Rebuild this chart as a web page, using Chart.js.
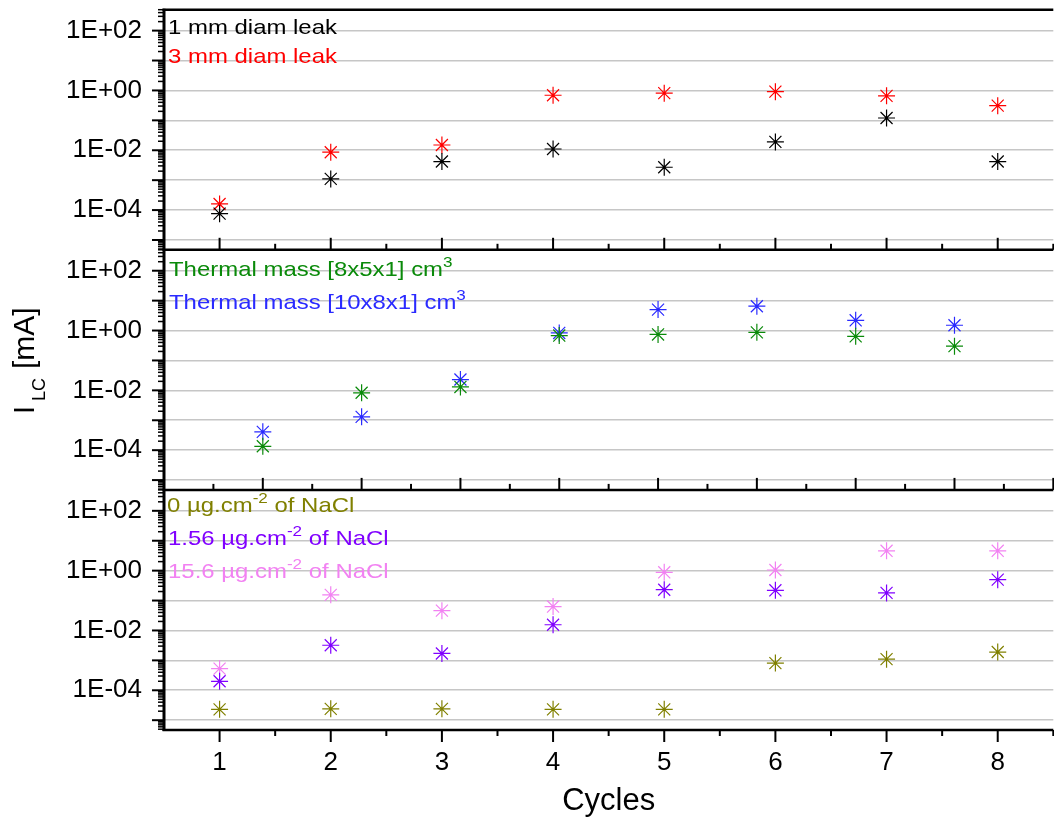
<!DOCTYPE html>
<html><head><meta charset="utf-8">
<script src="https://cdn.jsdelivr.net/npm/chart.js@4.4.1/dist/chart.umd.min.js"></script>
<style>html,body{margin:0;padding:0;overflow:hidden;background:#fff;width:1054px;height:823px}canvas{display:block}</style>
</head><body>
<canvas id="c" width="1063" height="823"></canvas>
<script>
// ---- data ----
const cycles = [1, 2, 3, 4, 5, 6, 7, 8];
const xTickLabels = ['1', '2', '3', '4', '5', '6', '7', '8'];
const leak1mm = [7.6e-5, 1.1e-3, 4.2e-3, 1.1e-2, 2.7e-3, 1.9e-2, 0.12, 4.2e-3];
const leak3mm = [1.6e-4, 8.6e-3, 1.5e-2, 0.69, 0.81, 0.91, 0.66, 0.31];
const mass8x5x1 = [1.35e-4, 8.3e-3, 1.3e-2, 0.68, 0.74, 0.87, 0.64, 0.30];
const mass10x8x1 = [4.1e-4, 1.3e-3, 2.3e-2, 0.83, 5.0, 6.5, 2.2, 1.5];
const nacl0 = [2.3e-5, 2.4e-5, 2.4e-5, 2.3e-5, 2.3e-5, 8.1e-4, 1.1e-3, 1.9e-3];
const nacl1_56 = [2.0e-4, 3.2e-3, 1.7e-3, 1.55e-2, 0.23, 0.22, 0.18, 0.5];
const nacl15_6 = [5.3e-4, 0.155, 4.6e-2, 6.3e-2, 0.88, 1.05, 4.6, 4.6];
const yDecades = [1e-5, 1e-4, 1e-3, 1e-2, 1e-1, 1, 10, 100];
const yTickValues = [1e-4, 1e-2, 1, 100];
const yTickLabels = ['1E-04', '1E-02', '1E+00', '1E+02'];
const yRange = [4.7e-6, 500];
const panel1Names = [[['1 mm diam leak', 0]], [['3 mm diam leak', 0]]];
const panel2Names = [[['Thermal mass [8x5x1] cm', 0], ['3', 1]], [['Thermal mass [10x8x1] cm', 0], ['3', 1]]];
const panel3Names = [[['0 \u00b5g.cm', 0], ['-2', 1], [' of NaCl', 0]], [['1.56 \u00b5g.cm', 0], ['-2', 1], [' of NaCl', 0]], [['15.6 \u00b5g.cm', 0], ['-2', 1], [' of NaCl', 0]]];

const F = '"Liberation Sans", Arial, Helvetica, sans-serif';
const C = { black: '#000000', red: '#ff0000', green: '#0a8a0a', blue: '#2a2aff', olive: '#808000', purple: '#8000ff', pink: '#f282f2' };

function series(label, values, color, xID, yID) {
  return {
    label, data: cycles.map((c, i) => ({ x: c, y: values[i] })),
    xAxisID: xID, yAxisID: yID, showLine: false,
    pointStyle: 'star', pointRadius: 8.5, pointHoverRadius: 8.5, pointBorderWidth: 1.2,
    borderColor: color, backgroundColor: color
  };
}

function yScale() {
  return {
    type: 'logarithmic', position: 'left', stack: 'panels', stackWeight: 1,
    min: yRange[0], max: yRange[1],
    afterFit(s) { s.width = 164; s.paddingTop = 0; s.paddingBottom = 0; },
    afterBuildTicks(s) { s.ticks = yDecades.map(v => ({ value: v, major: true })); },
    grid: { color: '#c6c6c6', lineWidth: 1.6, drawTicks: false },
    border: { display: false },
    ticks: {
      autoSkip: false, padding: 22, color: '#000', font: { family: F, size: 26 },
      callback: (v) => {
        const i = yTickValues.findIndex(t => Math.abs(Math.log10(t) - Math.log10(v)) < 1e-6);
        return i >= 0 ? yTickLabels[i] : '';
      }
    }
  };
}

function drawRich(ctx, x, y, parts, color) {
  ctx.save();
  ctx.translate(x, y);
  ctx.scale(1.14, 1);
  ctx.fillStyle = color;
  ctx.textBaseline = 'alphabetic';
  ctx.textAlign = 'left';
  let cx = 0;
  for (const [t, sup] of parts) {
    ctx.font = (sup ? '15px ' : '21px ') + F;
    ctx.fillText(t, cx, sup ? -9 : 0);
    cx += ctx.measureText(t).width;
  }
  ctx.restore();
}

const deco = {
  id: 'deco',
  afterDraw(chart) {
    const { ctx, chartArea: a, scales } = chart;
    const L = a.left, R = a.right;
    ctx.save();
    ctx.strokeStyle = '#000';
    ctx.lineCap = 'butt';
    // y ticks
    for (const id of ['yTop', 'yMid', 'yBot']) {
      const s = scales[id];
      for (let e = -6; e <= 3; e++) {
        for (let m = 1; m <= 9; m++) {
          const v = m * Math.pow(10, e);
          if (v < s.min || v > s.max) continue;
          const y = s.getPixelForValue(v);
          const len = m === 1 ? 12 : 6;
          ctx.lineWidth = m === 1 ? 2 : 1.5;
          ctx.beginPath(); ctx.moveTo(L - len, y); ctx.lineTo(L, y); ctx.stroke();
        }
      }
    }
    // x ticks
    const xt = (sx, yPix, dir) => {
      for (let v = Math.ceil(sx.min * 2) / 2; v <= sx.max + 1e-9; v += 0.5) {
        const x = sx.getPixelForValue(v);
        if (x < L + 1) continue;
        const major = Math.abs(v - Math.round(v)) < 1e-9;
        const len = major ? 12 : 6;
        ctx.lineWidth = 2;
        ctx.beginPath(); ctx.moveTo(x, yPix); ctx.lineTo(x, yPix + dir * len); ctx.stroke();
      }
    };
    xt(scales.x, scales.yTop.bottom, -1);
    xt(scales.x2, scales.yMid.bottom, -1);
    xt(scales.x, scales.yBot.bottom, 1);
    // borders
    ctx.lineWidth = 2.5;
    for (const yy of [scales.yTop.top, scales.yTop.bottom, scales.yMid.bottom, scales.yBot.bottom]) {
      ctx.beginPath(); ctx.moveTo(L - 1.5, yy); ctx.lineTo(R, yy); ctx.stroke();
    }
    ctx.lineWidth = 3;
    ctx.beginPath(); ctx.moveTo(L, a.top - 1); ctx.lineTo(L, a.bottom + 1); ctx.stroke();

    // y title  I_LC [mA]
    ctx.save();
    ctx.translate(34, 414);
    ctx.rotate(-Math.PI / 2);
    ctx.fillStyle = '#000';
    ctx.textBaseline = 'alphabetic';
    ctx.textAlign = 'left';
    ctx.font = '29px ' + F;
    ctx.fillText('I', 0, 0);
    ctx.font = '18px ' + F;
    ctx.fillText('LC', 13, 11);
    ctx.font = '30px ' + F;
    ctx.fillText('[mA]', 45, 0);
    ctx.restore();

    // in-panel legends
    const lx = L + 4;
    drawRich(ctx, lx, scales.yTop.top + 24, panel1Names[0], C.black);
    drawRich(ctx, lx, scales.yTop.top + 53.7, panel1Names[1], C.red);
    drawRich(ctx, lx + 1, scales.yMid.top + 26, panel2Names[0], C.green);
    drawRich(ctx, lx + 1, scales.yMid.top + 58.7, panel2Names[1], C.blue);
    drawRich(ctx, lx - 1, scales.yBot.top + 22, panel3Names[0], C.olive);
    drawRich(ctx, lx, scales.yBot.top + 55, panel3Names[1], C.purple);
    drawRich(ctx, lx, scales.yBot.top + 88, panel3Names[2], C.pink);
    ctx.restore();
  }
};

new Chart(document.getElementById('c'), {
  type: 'scatter',
  data: {
    datasets: [
      series('1 mm diam leak', leak1mm, C.black, 'x', 'yTop'),
      series('3 mm diam leak', leak3mm, C.red, 'x', 'yTop'),
      series('Thermal mass [8x5x1] cm3', mass8x5x1, C.green, 'x2', 'yMid'),
      series('Thermal mass [10x8x1] cm3', mass10x8x1, C.blue, 'x2', 'yMid'),
      series('0 ug.cm-2 of NaCl', nacl0, C.olive, 'x', 'yBot'),
      series('1.56 ug.cm-2 of NaCl', nacl1_56, C.purple, 'x', 'yBot'),
      series('15.6 ug.cm-2 of NaCl', nacl15_6, C.pink, 'x', 'yBot')
    ]
  },
  options: {
    responsive: false, animation: false, devicePixelRatio: 1,
    layout: { padding: { top: 7, right: 0, bottom: 0, left: 0 } },
    plugins: { legend: { display: false }, tooltip: { enabled: false } },
    scales: {
      x: {
        type: 'linear', position: 'bottom', min: 0.5, max: 8.5,
        afterFit(s) { s.height = 93; s.paddingLeft = 0; s.paddingRight = 0; },
        afterBuildTicks(s) { s.ticks = cycles.map(v => ({ value: v })); },
        grid: { display: false, drawTicks: false },
        border: { display: false },
        ticks: { padding: 17, color: '#000', font: { family: F, size: 26 }, callback: (v, i) => xTickLabels[i] },
        title: { display: true, text: 'Cycles', color: '#000', font: { family: F, size: 31 }, padding: { top: 0, bottom: 3 } }
      },
      x2: { type: 'linear', position: 'bottom', display: false, min: 0, max: 9 },
      yBot: yScale(),
      yMid: yScale(),
      yTop: yScale()
    }
  },
  plugins: [deco]
});
</script>
</body></html>
